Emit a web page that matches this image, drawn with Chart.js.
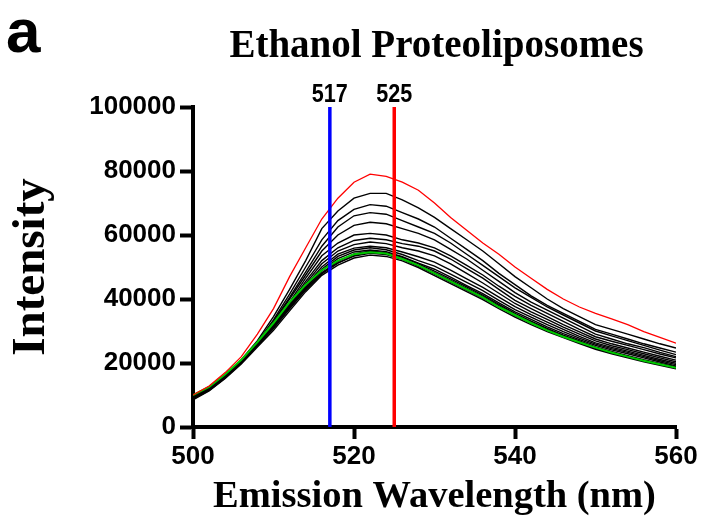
<!DOCTYPE html>
<html>
<head>
<meta charset="utf-8">
<script src="https://cdn.jsdelivr.net/npm/chart.js@4.4.1/dist/chart.umd.min.js"></script>
<style>
  html, body { margin: 0; padding: 0; background: #fff; }
  #wrap { width: 702px; height: 524px; }
</style>
</head>
<body>
<div id="wrap"><canvas id="specChart" width="702" height="524"></canvas></div>
<script>
// Emission wavelengths (nm), 2 nm steps
const wavelengths = [500, 502, 504, 506, 508, 510, 512, 514, 516, 518, 520, 522, 524, 526, 528, 530,
                     532, 534, 536, 538, 540, 542, 544, 546, 548, 550, 552, 554, 556, 558, 560];

// Top trace (red)
const redTrace = [10000, 12800, 17000, 22000, 29000, 37000, 47000, 56000, 65000, 71500, 76500, 79000, 78300, 76500, 74000, 70000,
                  65500, 61500, 57500, 54000, 50000, 46500, 43000, 40000, 37500, 35500, 33800, 32000, 29800, 28000, 26200];

// Green trace
const greenTrace = [10000, 12500, 16500, 21000, 26500, 32500, 39000, 44500, 49000, 52000, 54000, 54600, 54200, 52500, 50500, 48000,
                    45500, 43000, 40500, 37500, 35000, 32500, 30200, 28200, 26500, 24800, 23300, 22000, 20700, 19600, 18500];

// Black traces, highest to lowest
const black1 = [9500, 12000, 16000, 21000, 27000, 34500, 43000, 52000, 62000, 67500, 71500, 73000, 73000, 71000, 68500, 65500,
                62000, 58500, 55000, 51000, 47000, 43500, 40000, 37000, 34500, 32000, 30500, 29000, 27500, 26000, 24700];
const black2 = [9200, 11800, 15800, 20700, 26500, 33500, 41500, 50000, 58500, 64500, 68000, 69500, 69000, 67000, 65000, 62500,
                59000, 55500, 52000, 48000, 44500, 41000, 38000, 35500, 33000, 30500, 29000, 27500, 26000, 24700, 23400];
const black3 = [9000, 11700, 15700, 20500, 26200, 33000, 40500, 48500, 56500, 62500, 66000, 67000, 66500, 64500, 62500, 60500,
                57500, 54000, 50500, 47000, 43500, 40500, 37500, 35000, 32500, 30000, 28500, 27000, 25500, 24000, 22600];
const black4 = [9000, 11600, 15500, 20300, 26000, 32500, 40000, 47500, 55000, 60000, 63000, 64000, 63500, 62000, 60500, 58500,
                55500, 52500, 49000, 45500, 42000, 39000, 36500, 34000, 31500, 29000, 27500, 26000, 24800, 23300, 22000];
const black5 = [8800, 11400, 15300, 20000, 25600, 32000, 39000, 46500, 53500, 57500, 60000, 60500, 60000, 58500, 57500, 56000,
                53500, 50500, 47500, 44000, 40800, 38000, 35500, 33000, 30500, 28200, 26800, 25500, 24200, 22800, 21600];
const black6 = [9000, 11600, 15500, 20200, 25700, 32000, 38500, 45500, 52000, 56000, 58300, 59000, 58500, 57300, 56500, 55000,
                52500, 49500, 46500, 43000, 39600, 37000, 34500, 32000, 29700, 27500, 26000, 24700, 23400, 22100, 20900];
const black7 = [9200, 11800, 15700, 20300, 25800, 31800, 38000, 44800, 51000, 55000, 57000, 57800, 57300, 56000, 55000, 53500,
                51000, 48000, 45000, 41800, 38600, 36000, 33600, 31200, 29000, 26900, 25400, 24200, 22900, 21600, 20400];
const black8 = [9400, 12000, 15900, 20500, 25900, 31700, 37800, 44200, 50000, 54000, 55900, 56500, 56000, 54700, 53200, 51500,
                49000, 46300, 43600, 40600, 37600, 35100, 32800, 30500, 28300, 26300, 24900, 23700, 22400, 21100, 19900];
const black9 = [9600, 12200, 16100, 20700, 26000, 31500, 37500, 43600, 49300, 53300, 55300, 56000, 55400, 53900, 52000, 50300,
                47800, 45200, 42600, 39600, 36700, 34300, 32000, 29800, 27800, 25900, 24500, 23300, 22000, 20700, 19500];
const black10 = [9800, 12400, 16300, 20800, 26200, 31800, 37800, 43500, 48800, 52600, 54700, 55300, 54800, 53200, 51200, 49300,
                 46800, 44200, 41700, 38800, 36000, 33600, 31300, 29200, 27300, 25500, 24100, 22900, 21600, 20300, 19100];
const black11 = [8700, 11500, 15500, 20000, 25400, 30800, 36900, 42900, 48100, 51800, 54100, 55000, 54500, 53000, 51000, 48700,
                 46300, 43800, 41200, 38300, 35500, 33100, 30800, 28700, 26900, 25000, 23600, 22300, 21000, 19900, 18800];
const black12 = [9300, 12000, 16000, 20500, 25800, 31200, 37300, 43000, 47800, 51200, 53600, 54700, 54200, 52600, 50500, 48200,
                 45800, 43300, 40800, 37900, 35100, 32800, 30500, 28500, 26700, 24800, 23400, 22100, 20800, 19700, 18600];
const black13 = [9000, 11800, 15800, 20300, 25700, 31000, 37200, 43200, 48200, 51300, 53400, 54300, 53900, 52400, 50200, 47800,
                 45300, 42800, 40300, 37500, 34800, 32500, 30200, 28200, 26500, 24600, 23200, 21900, 20600, 19500, 18400];
const black14 = [8500, 11300, 15200, 19700, 25000, 30200, 36300, 42300, 47400, 50600, 52800, 53700, 53300, 51900, 49800, 47300,
                 44800, 42300, 39800, 37000, 34300, 32000, 29800, 27900, 26100, 24300, 22900, 21600, 20400, 19300, 18200];

const blackTraces = [black1, black2, black3, black4, black5, black6, black7, black8, black9, black10,
                     black11, black12, black13, black14];

// Marker wavelengths
const markerWavelengths = [517, 525];
const markerColors = ['#0000ff', '#ff0000'];

// Axis ticks
const xTicks = [500, 520, 540, 560];
const yTicks = [0, 20000, 40000, 60000, 80000, 100000];

const toPoints = arr => wavelengths.map((w, i) => ({ x: w, y: arr[i] }));

const markerSets = markerWavelengths.map((w, i) => ({
    data: [{ x: w, y: 0 }, { x: w, y: yTicks[yTicks.length - 1] }],
    borderColor: markerColors[i],
    borderWidth: 3.5,
    pointRadius: 0,
    clip: false
}));

const traceSets = [
    { data: toPoints(redTrace), borderColor: '#ff0000', borderWidth: 1.3 },
    { data: toPoints(greenTrace), borderColor: '#00c800', borderWidth: 2 },
    ...blackTraces.map(t => ({ data: toPoints(t), borderColor: '#000000', borderWidth: 1.4 }))
].map(d => ({ ...d, pointRadius: 0, tension: 0 }));

// Figure letter, title and marker labels
const textPlugin = {
    id: 'figText',
    afterDraw(chart) {
        const { ctx, chartArea, scales } = chart;
        ctx.save();
        ctx.fillStyle = '#000';
        ctx.textAlign = 'left';
        ctx.textBaseline = 'alphabetic';
        ctx.font = 'bold 62px "Liberation Sans"';
        ctx.fillText('a', 6, 52);

        ctx.textAlign = 'center';
        ctx.font = 'bold 39px "Liberation Serif"';
        ctx.fillText('Ethanol Proteoliposomes', (chartArea.left + chartArea.right) / 2 + 2, 57);

        // marker labels are condensed in the original; squeeze if no narrow face is present
        ctx.font = 'bold 25px "Liberation Sans Narrow", "Liberation Sans"';
        markerWavelengths.forEach(w => {
            const label = String(w);
            const px = scales.x.getPixelForValue(w);
            const sx = Math.min(1, 36 / ctx.measureText(label).width);
            ctx.save();
            ctx.translate(px, 102);
            ctx.scale(sx, 1);
            ctx.fillText(label, 0, 0);
            ctx.restore();
        });
        ctx.restore();
    }
};

const axisFont = { family: '"Liberation Sans"', weight: 'bold', size: 26 };

new Chart(document.getElementById('specChart'), {
    type: 'line',
    data: { datasets: [...markerSets, ...traceSets] },
    options: {
        responsive: false,
        animation: false,
        layout: { padding: { top: 107, right: 26, left: 0, bottom: 0 } },
        plugins: { legend: { display: false }, tooltip: { enabled: false } },
        scales: {
            x: {
                type: 'linear',
                min: 500,
                max: 560,
                afterBuildTicks: s => { s.ticks = xTicks.map(v => ({ value: v })); },
                afterFit: s => { s.height = 97; },
                ticks: { color: '#000', font: axisFont, padding: 2, maxRotation: 0 },
                grid: { drawOnChartArea: false, color: '#000', tickLength: 12, tickWidth: 4 },
                border: { color: '#000', width: 4 },
                title: {
                    display: true,
                    text: 'Emission Wavelength (nm)',
                    color: '#000',
                    font: { family: '"Liberation Serif"', weight: 'bold', size: 38.5 }
                }
            },
            y: {
                min: 0,
                max: 100000,
                afterBuildTicks: s => { s.ticks = yTicks.map(v => ({ value: v })); },
                afterFit: s => { s.width = 193; },
                ticks: { color: '#000', font: axisFont, padding: 4, callback: v => String(v) },
                grid: { drawOnChartArea: false, color: '#000', tickLength: 13, tickWidth: 4 },
                border: { color: '#000', width: 4 },
                title: {
                    display: true,
                    text: 'Intensity',
                    color: '#000',
                    font: { family: '"Liberation Serif"', weight: 'bold', size: 47 }
                }
            }
        }
    },
    plugins: [textPlugin]
});
</script>
</body>
</html>
